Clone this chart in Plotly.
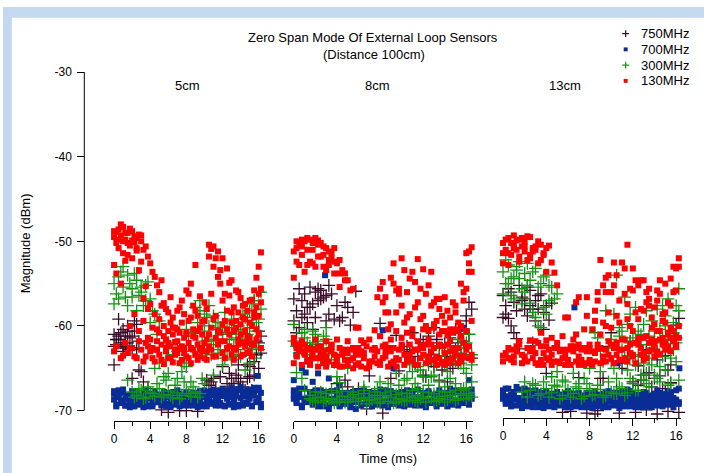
import plotly.graph_objects as go

N = None

# Sample times (ms) of the two interleaved sweep grids
TIME_A = [0.0, 0.5, 1.0, 1.5, 2.0, 2.5, 3.0, 3.5, 4.0, 4.5, 5.0, 5.5, 6.0, 6.5, 7.0, 7.5, 8.0,
          8.5, 9.0, 9.5, 10.0, 10.5, 11.0, 11.5, 12.0, 12.5, 13.0, 13.5, 14.0, 14.5, 15.0, 15.5, 16.0, 16.5]
TIME_B = [0.25, 0.75, 1.25, 1.75, 2.25, 2.75, 3.25, 3.75, 4.25, 4.75, 5.25, 5.75, 6.25, 6.75, 7.25, 7.75, 8.25,
          8.75, 9.25, 9.75, 10.25, 10.75, 11.25, 11.75, 12.25, 12.75, 13.25, 13.75, 14.25, 14.75, 15.25, 15.75, 16.25, 16.75]

SERIES = ["750MHz", "700MHz", "300MHz", "130MHz"]
PANEL_LABELS = ["5cm", "8cm", "13cm"]
X_TICKS = [0, 4, 8, 12, 16]
Y_TICKS = [-70, -60, -50, -40, -30]
Y_TICK_TEXT = ["-70", "-60", "-50", "-40", "-30"]

# ---------------- 5 cm ----------------
P1_750 = [
    [-61.0, -61.6, -60.4, -62.0, -61.2, -59.8, N, N, N, N, N, N, N, N, N, N, -70.0, N, N, N, N, -67.0, -66.2, N, -64.8, -66.8, -67.2, -65.8, -66.6, -67.6, -66.0, -65.8, -62.0, -62.8],
    [-62.2, -60.8, -62.6, -61.4, -60.6, -65.2, -66.6, -67.4, N, N, -69.9, N, N, N, N, N, N, N, -70.1, N, -66.4, N, -67.4, -66.0, -67.8, -65.6, -66.8, -64.6, -67.2, -66.2, -67.6, -63.4, -61.2, -64.0],
    [-64.6, -59.2, -62.4, -60.0, -66.2, -62.8, -65.4, N, N, N, N, N, -70.2, N, N, N, N, N, N, N, N, N, N, -68.0, N, N, -66.2, N, -68.2, N, -64.8, -64.2, -65.0, -66.2],
    [-61.6, -62.0, -61.2, -62.8, -59.4, -61.8, N, N, N, N, N, N, N, N, -70.0, N, N, N, N, N, N, -66.6, N, N, N, -67.4, N, -66.2, N, -64.6, N, -61.8, -63.2, -66.8],
    [-62.4, -61.2, -63.0, -60.6, -62.6, N, N, N, N, N, N, N, N, N, N, N, N, N, N, N, N, N, N, N, N, N, N, N, N, N, N, N, -60.6, N],
]
P1_750_EXTRA = ([], [])
P1_700 = [
    [-68.0, -67.6, -67.9, -68.2, -67.7, -68.1, -68.3, -68.0, -68.4, -68.2, -68.1, -68.5, -67.9, -67.8, -68.2, -68.3, -68.0, -68.4, -67.9, -68.1, -67.6, -67.8, -67.5, -67.9, -67.4, -67.7, -67.3, -67.6, -67.2, -67.8, -67.5, -67.3, -67.6, -67.9],
    [-69.3, -69.1, -69.4, -69.0, -69.2, -69.3, -69.1, -69.4, -69.2, -69.0, -69.3, -69.2, -69.4, -69.1, -69.3, -69.0, -69.2, -69.4, -69.1, -69.3, -69.2, -69.0, -69.3, -69.1, -69.4, -69.2, -69.0, -69.3, -69.1, -69.2, -69.4, -69.0, -69.2, -69.3],
    [-68.7, -68.4, -68.8, -68.5, -68.9, -68.6, -68.7, -68.9, -68.5, -68.8, -68.6, -68.9, -68.4, -68.7, -68.8, -68.6, -68.3, -68.7, -68.5, -68.8, -68.4, -68.6, -68.2, -68.5, -68.3, -68.6, -68.4, -68.1, -68.5, -68.3, -68.6, -68.2, -68.5, -68.7],
    [-69.5, -67.8, -69.4, -68.2, -69.5, -68.9, -69.6, -68.0, -69.5, -68.3, -69.4, -68.1, -69.6, -68.4, -69.5, -68.2, -69.4, -67.9, -69.6, -68.0, -69.5, -67.7, -69.4, -67.6, -69.5, -68.0, -69.6, -67.5, -69.4, -67.6, -69.5, -67.4, -69.6, -67.8],
    [-67.7, -68.3, -67.5, -68.6, -68.0, -67.8, -68.6, -67.6, -68.0, -67.7, -68.4, -67.8, -68.2, -68.6, -67.6, -68.5, -67.8, -68.1, -68.6, -67.7, -68.2, -68.4, -67.8, -68.3, -67.7, -68.3, -67.8, -68.3, -67.6, -68.0, -68.0, -67.8, -67.3, -68.2],
    [-68.2, -69.0, -68.6, -69.6, -68.1, -69.2, -68.0, -69.5, -68.7, -69.0, -68.2, -69.5, -68.9, -69.3, -68.0, -69.4, -68.8, -69.2, -68.2, -69.5, -68.8, -69.2, -68.7, -69.4, -68.0, -69.3, -68.8, -69.5, -68.0, -69.0, -68.2, -68.9, -67.9, -69.1],
]
P1_700_EXTRA = ([15.9], [-65.9])
P1_300 = [
    [-55.0, -54.2, -55.4, -54.0, -55.6, -54.6, -56.0, -55.2, -56.8, -58.6, -59.4, N, -62.0, N, -63.0, N, -60.4, N, -57.8, -57.0, -58.6, -60.0, -58.8, -59.6, -61.0, -60.2, -59.4, -61.4, -60.6, -59.0, -58.2, -57.0, -56.0, -55.2],
    [-56.2, -53.6, -56.6, -55.0, -53.8, -56.4, -57.6, -54.8, -58.2, -61.0, N, -64.0, N, -62.6, N, -64.4, -61.2, -63.0, -59.6, -61.8, -59.0, -62.2, -60.4, -62.8, -58.4, -60.8, -62.4, -60.0, -61.6, -59.4, -62.6, -60.6, -58.0, -56.6],
    [N, N, N, -66.4, -67.8, -68.2, -67.6, -68.4, -67.9, -68.3, -67.4, -68.1, -67.7, -68.5, -67.9, -68.2, -67.5, -68.3, -67.8, -68.0, -66.8, N, -65.8, N, -64.6, N, -64.0, N, -63.6, -65.2, -64.4, -63.8, -62.8, -61.6],
    [N, N, N, N, -68.4, -67.4, -68.6, -67.2, -68.0, -66.8, -68.4, -66.4, -68.2, -67.0, -68.6, -66.6, -68.0, -67.2, -68.4, -66.2, N, -63.4, -61.6, -60.2, -63.8, -61.6, -59.2, -62.8, -58.6, -61.0, -57.4, -59.6, -56.0, -60.4],
    [-57.4, -56.8, -53.0, -57.6, -56.6, -58.2, -55.4, -57.0, -59.6, -65.0, -64.4, -66.0, -65.6, -63.4, -66.2, -65.4, -64.8, -66.6, -60.8, -58.2, -60.6, -57.6, -61.8, -63.2, -60.8, -63.0, -61.0, -63.4, -60.4, -62.2, -60.2, -57.0, -59.2, -61.8],
]
P1_300_EXTRA = ([], [])
P1_130 = [
    [-49.5, -48.6, -48.3, -49.0, -48.8, -49.6, -50.0, -50.6, -52.6, -54.2, -56.0, -57.3, -58.4, -59.0, -58.2, -57.0, -55.8, -55.0, -52.8, -56.5, -57.2, -50.4, -50.6, -51.2, -52.0, -53.2, -54.6, -55.8, -56.7, -57.4, -57.0, -55.8, -53.0, -50.2],
    [-50.2, -49.3, -49.8, -48.5, -50.1, -49.2, -51.0, -51.8, -53.6, -55.2, -54.6, -58.0, -56.6, -60.2, -57.8, -58.6, -59.4, -57.6, -58.8, -59.5, -58.0, -50.9, -52.0, -53.4, -56.2, -54.9, -57.8, -58.4, -59.0, -58.2, -56.9, -54.3, -51.3, -52.8],
    [-52.8, -50.8, -51.4, -50.2, -52.0, -51.1, -52.4, -55.3, -57.4, -58.6, -59.2, -60.0, -60.6, -61.0, -60.4, -59.6, -60.8, -59.0, -58.2, -60.2, -59.4, -51.8, -53.0, -54.2, -57.0, -58.2, -59.6, -60.2, -59.8, -60.6, -59.6, -58.4, -56.2, -54.4],
    [-53.8, -55.0, -52.3, -60.0, -58.6, -60.6, -59.4, -61.4, -60.2, -61.8, -62.2, -61.6, -62.4, -61.9, -62.6, -61.4, -62.0, -61.2, -62.2, -61.0, -61.6, -60.2, -61.4, -60.8, -61.8, -61.0, -60.6, -61.6, -62.0, -61.2, -62.2, -60.4, -57.2, -59.8],
    [-63.0, N, -63.5, -63.2, -62.6, -63.8, -62.8, -63.6, -63.0, -64.2, -63.4, -64.5, -63.8, -64.3, -63.2, -64.0, -63.6, -64.4, -63.4, -62.8, -63.8, -62.4, -63.6, -62.2, -63.2, -62.6, -63.4, -62.8, -63.6, -62.4, -63.0, -62.2, -61.0, -63.4],
    [-48.9, -48.0, -49.0, -50.5, -49.4, -53.4, -56.8, -58.0, -62.6, -60.4, -57.6, -63.0, -59.6, -63.4, -60.8, -63.2, -56.2, -62.8, -60.6, -63.0, -64.0, -56.2, -58.8, -55.0, -59.4, -56.4, -62.6, -56.0, -57.6, -63.2, -60.0, -57.8, -55.6, -62.4],
    [-48.8, -49.8, -50.0, -51.6, -49.9, -50.8, -49.3, -62.0, -61.6, -62.8, -60.8, -61.2, -62.0, -60.2, -61.8, -62.4, -61.0, -62.6, -61.4, -63.6, -62.0, -61.0, -59.2, -60.6, -59.8, -60.4, -58.4, -59.4, -61.0, -59.2, -61.4, -59.0, -58.8, -56.4],
    [-62.4, -63.8, -62.0, -62.6, -63.6, -61.8, -64.2, -62.4, -63.8, -62.8, -64.0, -62.6, -63.8, -62.8, -64.4, -62.6, -63.8, -60.4, -64.0, -62.6, -63.0, -62.8, -63.6, -61.8, -63.8, -62.4, -64.0, -62.2, -63.4, -62.0, -63.6, -61.6, -62.6, -61.2],
]
P1_130_EXTRA = ([], [])

# ---------------- 8 cm ----------------
P2_750 = [
    [-56.8, -55.6, -56.2, -55.4, -56.0, -55.8, -56.4, -56.2, -57.6, -59.0, -57.8, -58.4, N, N, N, N, -59.7, N, N, -61.1, N, N, -60.8, N, -62.0, -63.4, -60.2, -62.6, -64.0, -61.4, -62.8, -60.6, -59.4, -58.0],
    [-58.2, -57.0, -59.6, -57.4, -55.6, -56.6, -55.2, -59.2, -59.4, -57.2, -59.9, -55.9, N, N, N, N, -70.3, N, N, -65.3, N, -63.0, N, -61.6, N, -64.2, -62.0, -65.2, -63.6, -65.0, -64.4, -61.8, -57.2, -60.4],
    [-59.4, -60.2, -58.6, -57.8, -59.0, -56.8, -59.4, N, -66.8, N, -67.2, N, -67.4, N, -65.9, N, N, N, -66.2, N, N, -62.4, N, -63.6, -65.8, -61.2, -64.8, -66.4, -62.2, -64.6, -60.4, -63.2, -58.8, -63.8],
    [-60.8, -59.0, -57.8, -60.4, -57.0, N, -58.6, N, N, -66.4, N, N, N, -69.8, N, N, N, N, N, N, -62.8, N, -64.4, N, -66.0, N, -61.6, N, -66.6, N, -62.0, -64.0, -61.0, -62.6],
]
P2_750_EXTRA = ([], [])
P2_700 = [
    [-67.6, -68.0, -67.4, -67.8, -68.2, -67.6, -68.0, -67.7, -68.1, -67.9, -68.2, -67.8, -68.0, -67.6, -68.1, -67.9, -67.5, -68.0, -67.7, -68.2, -67.8, -67.6, -68.0, -67.5, -67.9, -67.7, -68.1, -67.6, -67.9, -67.4, -67.8, -67.6, -68.0, -67.5],
    [-69.1, -69.4, -69.0, -69.3, -69.2, -69.5, -69.8, -69.1, -69.4, -69.2, -69.3, -69.0, -69.4, -69.2, -69.1, -69.3, -69.4, -69.0, -69.2, -69.4, -69.1, -69.3, -69.0, -69.4, -69.2, -69.1, -69.5, -69.2, -69.0, -69.3, -69.4, -69.1, -69.3, -69.2],
    [-68.6, -68.4, -68.8, -68.5, -68.7, -68.9, -68.4, -68.6, -68.8, -68.5, -68.7, -68.9, -68.6, -68.4, -68.8, -68.5, -68.7, -68.9, -68.4, -68.6, -68.8, -68.5, -68.7, -68.4, -68.6, -68.9, -68.5, -68.7, -68.4, -68.6, -68.8, -68.5, -68.3, -68.6],
    [-63.4, -65.0, -64.2, -66.6, -65.6, -63.8, -66.2, -64.6, -67.0, N, N, -69.8, N, N, N, N, -60.5, N, -65.0, N, N, N, N, N, N, N, N, N, N, N, N, -60.2, -66.4, -67.2],
    [-68.2, -67.4, -68.6, -68.0, -67.6, -68.3, -67.8, -68.8, -67.6, -68.4, -67.9, -68.5, -67.7, -68.3, -67.8, -68.6, -68.1, -67.6, -68.3, -67.9, -68.4, -68.0, -67.7, -68.6, -68.2, -67.9, -68.4, -68.0, -68.6, -68.0, -67.6, -68.2, -67.6, -68.2],
    [-68.8, -69.6, -68.5, -69.0, -69.5, -68.8, -69.3, -68.6, -69.5, -68.9, -69.6, -68.7, -69.2, -68.9, -69.5, -68.8, -69.1, -69.6, -68.8, -69.0, -69.5, -68.9, -69.4, -68.8, -69.6, -68.9, -69.2, -68.9, -69.5, -68.8, -69.2, -68.8, -69.0, -68.9],
]
P2_700_EXTRA = ([2.9, 0.0, 1.1, 2.7, 1.7], [-54.0, -66.4, -65.5, -64.3, -63.7])
P2_300 = [
    [N, N, N, -68.2, -67.8, -68.4, -68.0, -68.6, -67.9, -68.3, -68.7, -68.1, -68.5, -68.0, -68.8, -68.2, -68.6, -67.9, -68.4, -68.1, -68.7, -68.0, -68.5, -68.2, -67.8, -68.4, -68.0, -68.6, -67.8, -68.2, -67.6, -68.0, -67.4, -66.6],
    [N, N, N, -68.8, -68.5, -69.0, -68.6, -69.1, -68.7, -69.0, -68.4, -68.9, -68.6, -69.2, -68.7, -69.0, -68.5, -68.9, -69.1, -68.6, -68.9, -68.4, -68.8, -68.6, -69.0, -68.5, -68.8, -68.3, -68.7, -68.4, -68.6, -68.2, -68.0, -67.2],
    [-61.8, -62.6, -61.4, -63.0, -62.2, -62.8, -61.6, -63.2, -66.0, N, -65.0, N, N, -67.2, N, N, -66.6, N, N, -65.6, N, -66.2, -65.4, -64.8, -66.0, -64.6, -65.8, -63.6, -64.4, -63.0, -64.2, -62.6, -62.0, -63.4],
    [-62.4, -60.8, -63.4, -62.0, -63.6, -61.2, -62.8, -64.3, -66.7, N, N, N, N, N, N, -67.4, N, -66.8, N, -67.0, -66.4, -64.6, -66.8, -65.2, -63.8, -66.0, -64.4, -62.6, -65.4, -63.8, -61.6, -65.0, -61.0, -62.2],
    [-59.8, -63.2, -60.4, -62.4, -61.0, -63.8, -60.2, N, N, N, N, N, N, N, N, N, N, N, N, N, N, N, N, -67.4, N, -67.0, N, -66.6, -67.2, -66.2, -66.8, -64.4, -65.6, -64.6],
    [-65.5, -66.2, -62.0, -60.6, -61.8, -62.6, -64.0, N, N, N, N, N, N, N, N, N, N, N, N, N, N, N, N, N, N, N, N, N, N, N, N, -67.4, -68.2, -66.0],
    [N, N, -67.6, -68.6, -69.0, -67.8, -68.8, -67.6, -68.9, -67.7, -69.0, -67.8, -68.9, -67.6, -68.4, -67.8, -69.1, -68.2, -67.7, -69.0, -67.9, -68.8, -67.6, -69.0, -68.4, -67.9, -68.9, -67.7, -69.0, -67.8, -68.8, -67.6, -68.6, -68.4],
]
P2_300_EXTRA = ([], [])
P2_130 = [
    [-51.2, -50.4, -50.0, -49.8, -49.6, -50.2, -50.8, -51.4, -52.6, -53.4, -54.6, -55.6, N, N, N, N, -55.6, -56.6, -54.3, -58.4, -52.0, -56.0, -53.6, -52.1, -53.3, -55.2, -57.2, -58.0, -56.6, -59.0, -58.4, -55.0, -51.4, -50.7],
    [-52.4, -50.6, -49.6, -51.0, -50.4, -51.6, -52.2, -53.8, -55.4, -54.6, -55.8, -60.2, -61.7, N, N, N, -57.2, -58.4, -55.0, -56.2, -59.6, -54.4, -57.8, -55.6, -60.0, -57.6, -59.4, -60.6, -58.2, -60.8, -59.6, -57.0, -52.6, -55.0],
    [-62.0, -62.8, -63.4, -62.6, -63.8, -62.4, -63.6, -63.0, -64.2, -63.4, -64.6, -63.8, -64.4, -63.2, -64.8, -63.6, -64.2, -63.0, -64.4, -63.8, -62.6, -63.6, -64.0, -62.8, -63.4, -64.2, -62.6, -63.8, -63.2, -64.4, -62.8, -63.6, -62.4, -63.4],
    [-63.6, -61.8, -64.0, -63.2, -62.4, -64.4, -62.8, -64.6, -62.6, -64.0, -62.8, -64.6, -63.0, -65.0, -62.8, -64.4, -62.4, -64.8, -62.6, -64.0, -63.4, -62.2, -64.6, -63.8, -62.2, -63.0, -64.6, -62.4, -64.0, -62.6, -64.4, -62.0, -63.8, -61.8],
    [-61.4, -63.0, -62.2, -64.0, -61.6, -63.2, -61.8, -62.2, -61.6, -62.8, -61.8, -62.6, -63.4, -62.0, -61.6, -62.6, -61.2, -62.2, -61.6, -60.6, -61.4, -60.8, -61.2, -61.8, -60.4, -61.6, -60.2, -61.0, -60.6, -61.8, -60.4, -61.2, -60.6, -59.4],
    [-50.0, -51.6, -52.8, -50.2, -51.8, -53.0, -51.2, -52.4, -53.8, N, N, N, N, N, N, -56.6, -54.8, -60.4, -52.6, -55.6, -53.4, -58.6, -54.8, -59.2, -56.2, -53.6, -56.8, -58.8, -61.0, -57.2, -60.6, -56.0, -53.6, -57.0],
    [-54.3, -52.8, -53.6, -52.4, -53.0, -51.8, -53.4, -52.0, N, N, N, N, -60.2, N, N, -60.5, N, -58.4, -59.8, -55.8, -57.6, -59.0, -60.4, -57.2, -58.8, -60.6, -59.8, -56.8, -59.6, -60.4, -57.6, -60.0, -55.6, -53.6],
    [-50.8, -49.8, -51.0, -52.6, -49.9, -50.6, -52.8, -50.8, -52.2, -53.8, N, N, N, N, N, N, N, N, N, N, N, N, N, N, N, N, N, N, N, N, N, N, -51.2, N],
    [-64.4, -62.2, -63.0, -64.6, -62.8, -63.8, -64.8, -62.4, -63.6, -64.8, -63.2, -65.0, -62.6, -63.8, -64.2, -62.8, -64.6, -63.6, -63.0, -64.8, -62.2, -64.2, -63.0, -64.6, -62.6, -63.6, -64.0, -62.2, -64.6, -63.0, -63.4, -64.2, -62.8, -64.0],
    [-62.6, -64.6, -62.8, -63.8, -64.8, -63.0, -64.2, -63.4, -64.8, -62.8, -64.0, -63.2, -64.8, -62.4, -64.2, -63.0, -63.8, -62.6, -64.2, -62.8, -64.6, -63.4, -62.8, -62.4, -64.4, -62.2, -63.6, -64.4, -62.2, -63.8, -62.6, -63.6, -62.4, -63.2],
]
P2_130_EXTRA = ([], [])

# ---------------- 13 cm ----------------
P3_750 = [
    [-56.4, -55.6, -57.2, -55.2, -56.8, -55.8, -57.0, -56.2, -57.6, -57.3, N, N, N, N, N, N, N, N, -66.2, N, -60.8, N, -65.0, N, -66.6, -64.7, N, -65.5, -63.0, -65.9, -63.5, -66.7, -59.9, -61.0],
    [-57.6, -56.0, -58.2, -56.6, -55.4, -58.0, -56.4, -58.4, -59.3, N, N, N, -70.1, N, N, -70.3, N, N, -66.2, -62.4, N, -64.4, N, -61.8, N, -66.4, -62.8, -67.2, -64.0, -67.4, -65.2, -61.6, -59.1, -62.4],
    [-59.0, -59.1, -60.8, -62.7, -58.0, -57.6, -59.4, N, -65.6, N, N, -70.2, N, N, -66.1, N, N, -70.4, N, N, N, -67.6, N, -63.8, N, -67.0, -65.8, N, -66.2, N, -67.8, -64.6, -61.4, -60.2],
    [-58.6, -60.0, -61.5, -57.0, -58.8, -62.0, -58.0, -60.4, N, N, N, N, N, N, N, N, N, -70.0, N, N, N, -70.3, N, N, -70.2, N, -69.9, N, -70.4, N, -70.1, N, -70.2, -63.2],
]
P3_750_EXTRA = ([], [])
P3_700 = [
    [-67.6, -67.4, -67.8, -67.5, -68.0, -67.7, -68.2, -67.9, -68.3, -68.0, -68.4, -68.1, -68.3, -68.0, -68.4, -68.2, -67.9, -68.3, -68.1, -68.4, -68.0, -68.3, -67.8, -68.2, -68.4, -68.1, -68.5, -68.2, -68.0, -68.3, -68.1, -67.8, -67.6, -67.9],
    [-69.2, -69.0, -69.4, -69.1, -69.5, -69.2, -69.6, -69.3, -69.5, -69.1, -69.4, -69.6, -69.2, -69.5, -69.3, -69.6, -69.2, -69.5, -69.3, -69.6, -69.4, -69.2, -69.5, -69.3, -69.6, -69.2, -69.5, -69.3, -69.4, -69.1, -69.3, -69.0, -69.2, -69.4],
    [-68.6, -68.3, -68.7, -68.5, -68.8, -68.6, -68.9, -68.7, -69.0, -68.8, -68.9, -68.7, -69.0, -68.8, -69.1, -68.9, -68.7, -69.0, -68.8, -69.1, -68.9, -68.7, -69.0, -68.8, -69.1, -68.8, -69.0, -68.7, -68.9, -68.6, -68.8, -68.5, -68.7, -68.9],
    [-67.4, -68.1, -67.2, -68.6, -67.6, -68.9, -67.8, -69.0, -68.2, -69.3, -68.5, -68.0, -69.2, -68.4, -68.9, -67.9, -69.1, -68.6, -68.0, -67.7, -68.7, -69.0, -68.3, -67.7, -68.8, -68.4, -67.9, -68.6, -67.6, -68.2, -67.7, -68.5, -67.4, -68.0],
    [-68.0, -68.7, -68.2, -68.9, -67.4, -68.3, -67.6, -68.4, -67.7, -68.6, -67.8, -68.5, -67.7, -68.6, -67.9, -68.6, -68.4, -67.7, -68.5, -67.8, -68.5, -67.9, -68.6, -67.5, -68.0, -68.6, -67.8, -68.9, -68.4, -67.9, -68.6, -68.2, -68.9, -67.6],
    [-68.9, -69.5, -68.6, -69.7, -68.9, -69.6, -69.0, -69.7, -68.8, -69.6, -69.1, -69.3, -69.6, -69.0, -69.6, -69.2, -69.7, -69.0, -69.6, -68.9, -69.2, -69.7, -68.9, -69.5, -69.0, -69.6, -68.8, -69.6, -69.1, -69.5, -68.9, -69.6, -69.0, -69.2],
]
P3_700_EXTRA = ([6.6, 16.3, 10.6, -0.1, 16.95], [-57.8, -65.0, -64.4, -68.6, -68.8])
P3_300 = [
    [-53.6, -52.8, -54.2, -52.4, -53.8, -54.6, -53.2, -55.0, -54.0, -55.4, -56.2, N, N, N, -66.8, N, -67.4, N, -63.0, N, -61.6, -54.0, -62.8, -59.8, -63.6, -60.6, -64.4, -61.2, -62.0, -60.4, -58.8, -61.4, -57.6, -56.4],
    [-55.0, -54.4, -53.0, -55.6, -52.6, -53.6, -55.4, -54.2, -57.0, N, N, N, N, N, N, N, N, -61.4, -64.2, -62.6, -65.0, -60.2, -63.8, -58.6, -64.6, -62.2, -65.6, -59.4, -63.0, -57.6, -62.6, -59.6, -55.6, -60.0],
    [N, N, N, N, -66.6, -67.6, -67.0, -68.0, -67.4, -67.9, -67.2, -68.2, -67.6, -68.0, -67.4, -68.3, -67.7, -68.1, -67.5, -68.2, -67.8, -68.0, -67.4, -67.9, -66.8, -67.6, -66.4, -67.2, -65.8, -66.6, -65.2, -66.8, -64.2, N],
    [N, N, N, -67.8, -68.4, -66.8, -68.2, -66.6, -68.4, -67.0, -68.6, -66.6, -68.4, -67.2, -68.6, -66.8, -68.2, -67.0, -68.4, -66.6, -68.0, -67.2, -68.2, -66.2, -67.6, -65.8, -66.8, -64.6, -66.2, -63.6, -67.0, -62.8, -66.4, -61.4],
    [-56.2, -55.0, -56.8, -54.4, -56.0, -57.3, -59.0, -60.2, -58.6, -66.0, -65.4, -66.4, N, -65.6, N, -66.2, -65.0, -60.8, -65.4, -58.2, -64.2, -66.2, -60.6, -65.2, -61.4, -63.4, -59.8, -63.8, -60.6, -64.8, -60.0, -63.8, -62.0, -58.8],
    [-52.2, -56.4, -53.4, -57.4, -55.2, -58.4, -60.0, -57.8, -55.2, -56.8, N, N, N, N, N, N, N, N, N, N, -58.6, -61.2, -56.6, -62.0, -57.8, -61.0, -58.2, -62.6, -58.0, -61.6, -56.8, -60.8, -58.2, -57.0],
]
P3_300_EXTRA = ([], [])
P3_130 = [
    [-50.2, -49.6, -49.3, -49.8, -50.0, -49.5, -50.6, -50.4, -50.8, -52.5, -55.2, N, -59.0, N, -56.6, N, N, N, -52.2, -54.3, -56.0, -54.0, -52.5, -50.4, -53.2, -55.2, -54.6, -56.8, -57.8, -56.2, -55.0, -54.4, -53.2, -51.6],
    [-51.0, -50.2, -49.9, -50.6, -49.4, -51.2, -50.0, -51.6, -50.5, -53.7, N, N, N, -57.2, N, -56.6, N, -56.0, -55.2, -54.0, -52.5, -57.0, -53.2, -55.6, -58.4, -54.6, -57.2, -59.0, -55.8, -58.6, -57.2, -53.0, -52.0, -53.2],
    [-63.5, -63.8, -64.3, -62.2, -63.6, -61.7, -63.2, -64.0, -61.7, -63.4, -64.2, -62.8, -64.4, -63.0, -64.6, -62.6, -64.0, -63.2, -64.4, -62.8, -63.8, -62.4, -64.0, -62.6, -63.4, -61.8, -63.2, -62.0, -63.6, -61.6, -62.8, -61.4, -62.4, -60.8],
    [N, -62.8, -63.0, -64.4, -62.6, -63.8, -62.0, -64.6, -62.8, -64.2, -63.0, -64.6, -62.4, -64.2, -62.8, -64.4, -63.0, -62.2, -63.6, -61.8, -62.6, -64.0, -61.6, -63.2, -62.0, -63.4, -61.2, -62.8, -60.6, -62.2, -60.8, -61.8, -60.0, -58.6],
    [-52.6, -51.4, -50.8, -51.8, -51.2, -52.0, -61.8, -60.8, -62.4, -61.4, -62.0, -61.2, -62.8, -61.6, -62.2, -60.4, -62.6, -58.2, -61.0, -56.0, -60.2, -58.8, -61.6, -57.4, -60.6, -59.2, -61.4, -57.6, -59.8, -60.6, -58.4, -60.2, -55.8, -54.4],
    [-49.8, -51.6, -51.0, -49.6, -52.2, -50.8, -52.6, -51.4, N, N, N, -59.0, N, -61.0, N, -58.8, -60.4, -57.0, -59.6, -58.4, -55.2, -59.6, -56.2, -60.0, -54.6, -58.0, -56.0, -60.2, -57.0, -59.4, -61.0, -56.0, -53.0, -55.6],
    [-51.4, -52.8, -50.4, -52.4, -50.6, -51.6, -51.0, -52.2, -53.6, N, N, N, N, N, N, N, N, -59.4, N, -60.0, N, -62.0, N, -59.2, -55.8, -61.4, -58.2, -55.6, -61.8, -54.6, -59.6, -57.6, -62.2, -52.0],
    [-63.2, -64.0, -62.4, -63.4, -64.2, -62.6, -64.6, -63.2, -64.0, -62.6, -64.4, -63.4, -64.6, -62.6, -64.0, -63.0, -64.6, -62.6, -64.2, -63.4, -64.4, -62.8, -63.8, -62.2, -64.4, -62.6, -63.8, -61.6, -63.0, -61.4, -62.4, -60.6, -61.4, -62.8],
    [-64.2, -62.6, -63.6, -61.8, -64.0, -63.0, -64.4, -62.4, -63.8, -64.6, -62.6, -63.8, -64.0, -62.4, -63.6, -64.6, -62.2, -64.2, -62.6, -64.2, -62.2, -63.4, -62.8, -64.2, -63.6, -62.2, -64.0, -63.0, -62.2, -63.4, -62.0, -63.0, -61.2, -62.0],
]
P3_130_EXTRA = ([], [])

PANEL_DATA = [
    {"750MHz": (P1_750, P1_750_EXTRA), "700MHz": (P1_700, P1_700_EXTRA),
     "300MHz": (P1_300, P1_300_EXTRA), "130MHz": (P1_130, P1_130_EXTRA)},
    {"750MHz": (P2_750, P2_750_EXTRA), "700MHz": (P2_700, P2_700_EXTRA),
     "300MHz": (P2_300, P2_300_EXTRA), "130MHz": (P2_130, P2_130_EXTRA)},
    {"750MHz": (P3_750, P3_750_EXTRA), "700MHz": (P3_700, P3_700_EXTRA),
     "300MHz": (P3_300, P3_300_EXTRA), "130MHz": (P3_130, P3_130_EXTRA)},
]

# ---------------- styling ----------------
W, H = 707, 473
FONT = "Liberation Sans, Arial, sans-serif"
COLORS = {"750MHz": "#3a0b26", "700MHz": "#0a2c96", "300MHz": "#119411", "130MHz": "#ff0000"}


def px(x):
    return x / W


def py(y):
    return 1 - y / H


def flatten(sweeps, extra):
    xs, ys = [], []
    for k, sw in enumerate(sweeps):
        t = TIME_A if k % 2 == 0 else TIME_B
        assert len(sw) == len(t), (k, len(sw))
        for ti, v in zip(t, sw):
            if v is not None:
                xs.append(ti)
                ys.append(v)
    xs += list(extra[0])
    ys += list(extra[1])
    return xs, ys


fig = go.Figure()
axis_names = ["x", "x2", "x3"]
for p, data in enumerate(PANEL_DATA):
    for s in SERIES:
        xs, ys = flatten(*data[s])
        col = COLORS[s]
        if s in ("750MHz", "300MHz"):
            marker = dict(symbol="cross-thin", size=9, color=col, line=dict(color=col, width=1.3))
        else:
            marker = dict(symbol="square", size=6, color=col, line=dict(width=0))
        fig.add_trace(go.Scatter(x=xs, y=ys, mode="markers", marker=marker, name=s,
                                 xaxis=axis_names[p], yaxis="y", showlegend=False,
                                 cliponaxis=False, hoverinfo="skip"))

xcommon = dict(showline=True, linecolor="black", linewidth=1, ticks="outside", ticklen=7,
               tickwidth=1, tickcolor="black", tickvals=X_TICKS, showgrid=False, zeroline=False,
               tickfont=dict(family=FONT, size=12, color="black"),
               minor=dict(ticks="outside", tickvals=[2, 6, 10, 14], ticklen=4, tickcolor="black",
                          tickwidth=1, showgrid=False))

Y_TOP = 66      # pixel row of -30 dBm
Y_AXIS_X = 82   # pixel column of the y axis line

fig.update_layout(
    width=W, height=H, margin=dict(l=0, r=0, t=0, b=0),
    paper_bgcolor="white", plot_bgcolor="rgba(0,0,0,0)",
    showlegend=False,
    xaxis=dict(domain=[px(112.0), px(261.7)], range=[0, 16.42], anchor="y", **xcommon),
    xaxis2=dict(domain=[px(293.3), px(474.0)], range=[0, 16.62], anchor="y", **xcommon),
    xaxis3=dict(domain=[px(504.3), px(684.0)], range=[0, 16.47], anchor="free",
                position=py(417), **xcommon),
    yaxis=dict(domain=[py(420), py(Y_TOP)], range=[-71.2, -30], anchor="free", position=px(Y_AXIS_X),
               ticks="outside", ticklen=7, tickwidth=1, tickcolor="black",
               tickvals=Y_TICKS, ticktext=Y_TICK_TEXT,
               showline=False, showgrid=False, zeroline=False, ticklabelstandoff=3,
               tickfont=dict(family=FONT, size=12, color="black")),
)

shapes = [
    dict(type="rect", xref="paper", yref="paper", x0=0, x1=px(9), y0=0, y1=1,
         fillcolor="#c4d8ef", line=dict(width=0), layer="below"),
    dict(type="rect", xref="paper", yref="paper", x0=0, x1=1, y0=py(11), y1=1,
         fillcolor="#c4d8ef", line=dict(width=0), layer="below"),
    dict(type="line", xref="paper", yref="y", x0=px(Y_AXIS_X), x1=px(Y_AXIS_X), y0=-70, y1=-30,
         line=dict(color="black", width=1)),
]

annotations = []


def note(text, x, y, size=13, xanchor="center", angle=0):
    annotations.append(dict(text=text, x=px(x), y=py(y), xref="paper", yref="paper",
                            xanchor=xanchor, yanchor="middle", showarrow=False, textangle=angle,
                            font=dict(family=FONT, size=size, color="black")))


note("Zero Span Mode Of External Loop Sensors", 373, 31)
note("(Distance 100cm)", 374, 48)
for lab, xc in zip(PANEL_LABELS, [186, 378, 567]):
    note(lab, xc, 80)
note("Time (ms)", 388, 458)
note("Magnitude (dBm)", 23, 240, angle=-90)

# legend
LEG_Y = [27, 43, 59, 75]
for s, ly in zip(SERIES, LEG_Y):
    col = COLORS[s]
    if s in ("750MHz", "300MHz"):
        shapes.append(dict(type="line", xref="paper", yref="paper", x0=px(624.5), x1=px(631.5),
                           y0=py(ly), y1=py(ly), line=dict(color=col, width=1.2)))
        shapes.append(dict(type="line", xref="paper", yref="paper", x0=px(628), x1=px(628),
                           y0=py(ly - 3.5), y1=py(ly + 3.5), line=dict(color=col, width=1.2)))
    else:
        shapes.append(dict(type="rect", xref="paper", yref="paper", x0=px(626), x1=px(630),
                           y0=py(ly + 2), y1=py(ly - 2), fillcolor=col, line=dict(width=0)))
    note(s, 641.5, ly, xanchor="left")

fig.update_layout(shapes=shapes, annotations=annotations)
fig.write_html("out.html", config={"displayModeBar": False},
               post_script="document.body.style.margin='0px';document.body.style.overflow='hidden';")
